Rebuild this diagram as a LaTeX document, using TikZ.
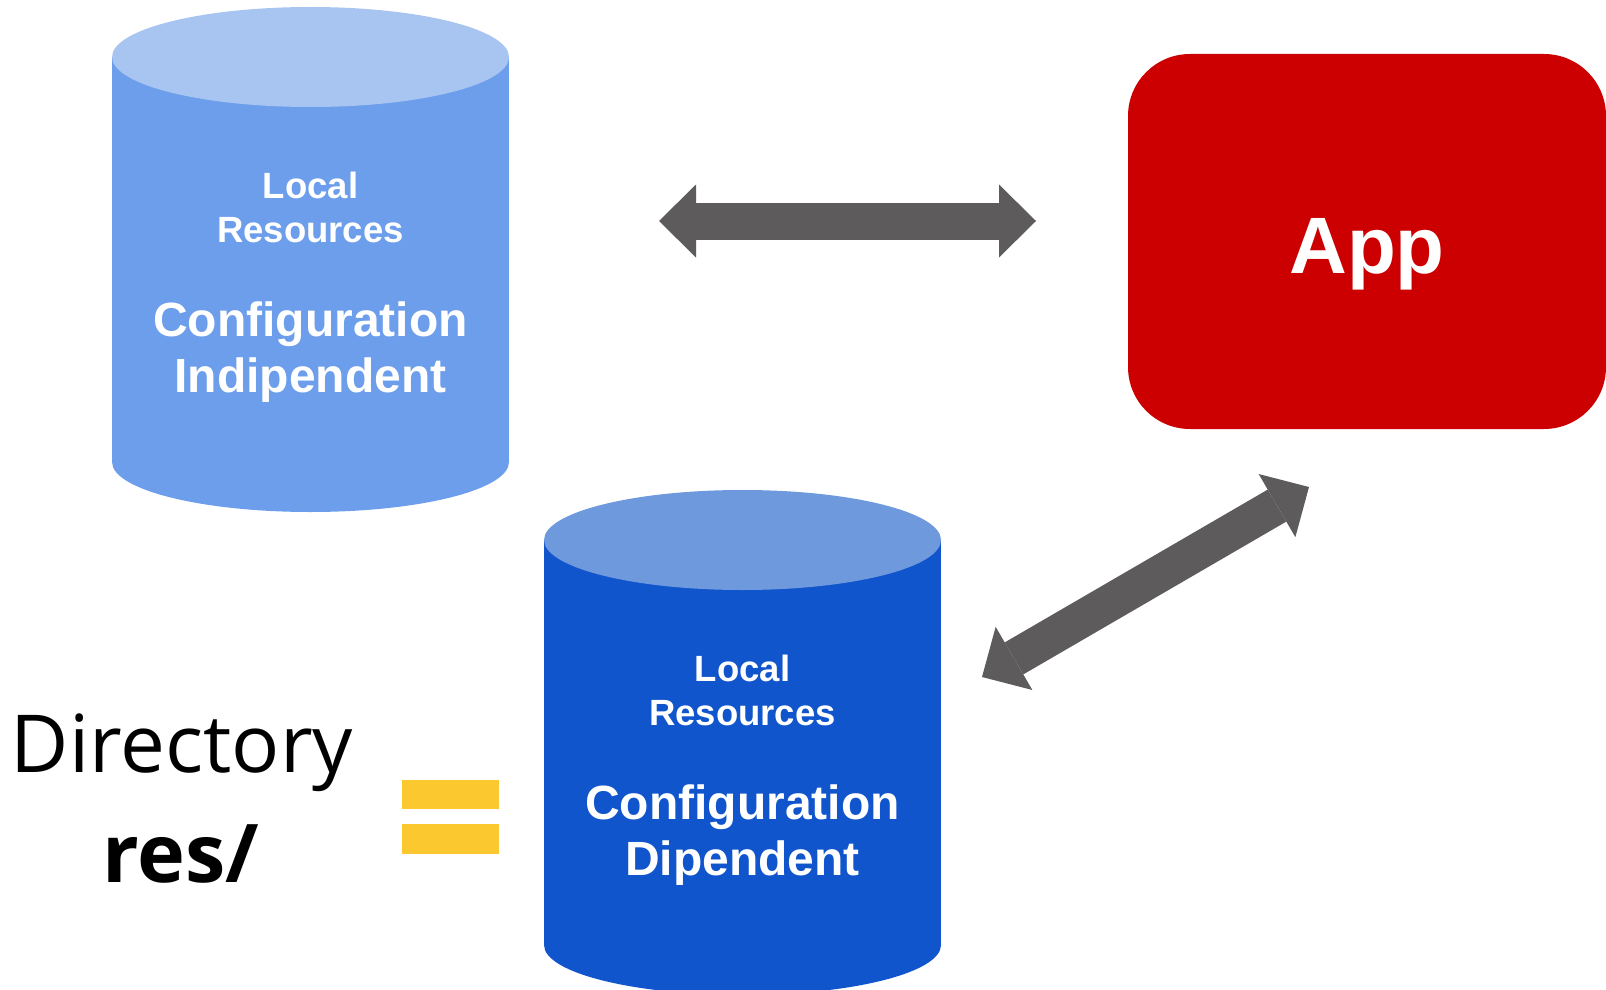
\documentclass[tikz,border=0pt]{standalone}
\usepackage{fontspec}
\setmainfont{Liberation Sans}
\newfontfamily\dirfont{Open Sans}
\usepackage{tikz}
\usetikzlibrary{positioning, arrows.meta}

\definecolor{cylAbody}{HTML}{6D9EEB}
\definecolor{cylAtop}{HTML}{A8C5F2}
\definecolor{cylBbody}{HTML}{1155CC}
\definecolor{cylBtop}{HTML}{6F99DD}
\definecolor{appred}{HTML}{CC0000}
\definecolor{arrowgray}{HTML}{5D5B5C}
\definecolor{eqyellow}{HTML}{FBC830}

\tikzset{
    smalltext/.style={text=white, align=center, inner sep=0,
        font=\bfseries\fontsize{36.5}{44}\selectfont},
    bigtext/.style={text=white, align=center, inner sep=0,
        font=\bfseries\fontsize{48}{56}\selectfont},
    appbox/.style={fill=appred, rounded corners=62pt, inner sep=0,
        minimum width=478pt, minimum height=375pt},
    applabel/.style={anchor=base, inner sep=0, text=white,
        font=\bfseries\fontsize{80}{90}\selectfont},
    blockarrow/.style={arrowgray, line width=37pt,
        {Triangle[length=37pt, width=73pt, line width=0pt]}-{Triangle[length=37pt, width=73pt, line width=0pt]}},
}

\begin{document}
\begin{tikzpicture}[x=1pt, y=-1pt]
    \useasboundingbox (0,0) rectangle (1606,990);

    % the two resource cylinders
    \foreach \cx/\cy/\bodyc/\topc/\cyl/\word in {
        310.5/57/cylAbody/cylAtop/A/Indipendent,
        742.5/540/cylBbody/cylBtop/B/Dipendent}
    {
        \fill[\bodyc] (\cx-198.5, \cy) rectangle (\cx+198.5, \cy+405);
        \fill[\bodyc] (\cx, \cy+405) ellipse [x radius=198.5, y radius=50];
        \fill[\topc] (\cx, \cy) ellipse [x radius=198.5, y radius=50];
        \node[smalltext] (local\cyl) at (\cx, \cy+150.5) {Local\\Resources};
        \node[bigtext] (conf\cyl) at (\cx, \cy+295) {Configuration\\\word};
    }

    % app
    \node[appbox] (app) at (1367, 241.5) {};
    \node[applabel] (appname) at (1367, 273) {App};

    % arrows
    \coordinate (hA) at (659,221);
    \coordinate (hB) at (1036,221);
    \coordinate (dA) at (982,677);
    \coordinate (dB) at (1309,487);
    \draw[blockarrow] (hA) -- (hB);
    \draw[blockarrow] (dA) -- (dB);

    % directory label
    \node[anchor=base, inner sep=0, font=\dirfont\fontsize{80}{90}\selectfont] (dir) at (182,772) {Directory};
    \node[anchor=base, inner sep=0, font=\dirfont\bfseries\fontsize{81}{90}\selectfont] (res) at (181,882) {res/};

    % equals sign
    \fill[eqyellow] (402,780) rectangle (499,809);
    \fill[eqyellow] (402,824) rectangle (499,854);
\end{tikzpicture}
\end{document}
